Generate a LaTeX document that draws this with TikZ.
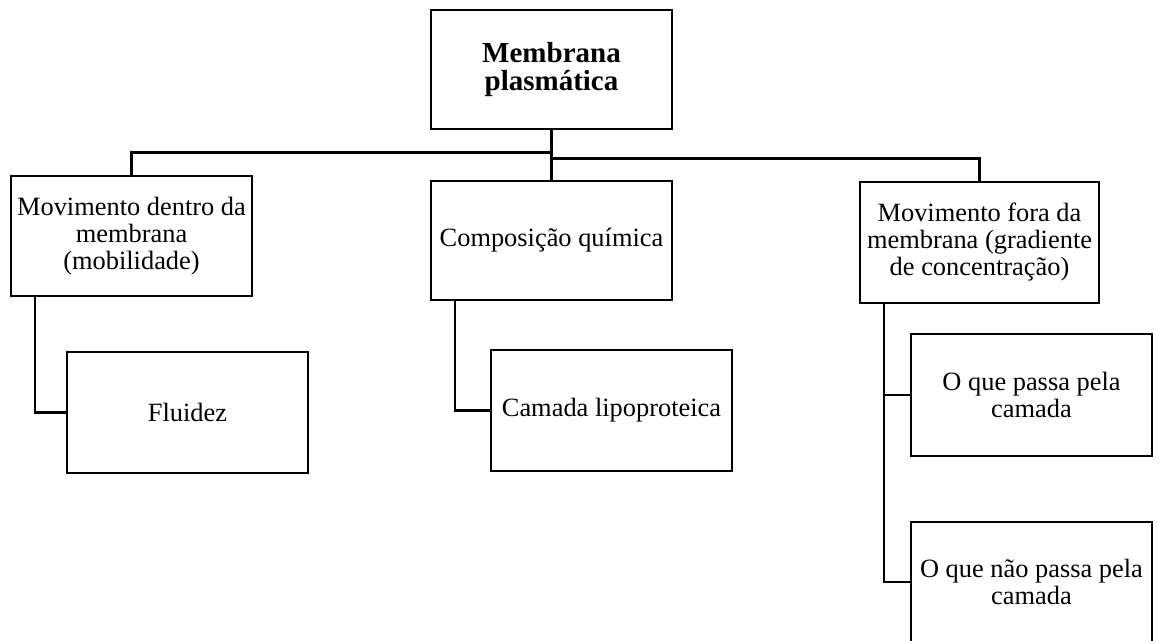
\documentclass[tikz,border=0pt]{standalone}
\usepackage{fontspec}
\setmainfont{Liberation Serif}
\begin{document}
\begin{tikzpicture}[x=1pt,y=-1pt,
  line width=2.6pt,
  box/.style={draw=black, rectangle, inner sep=0pt, align=center,
    minimum width=241pt, minimum height=120pt,
    font=\fontsize{26.4}{27}\selectfont},
  titlebox/.style={box, font=\fontsize{29}{28.5}\selectfont\bfseries},
  link/.style={draw=black, line width=2.6pt}
]
\clip (0,0) rectangle (1159,640);
\fill[white] (0,0) rectangle (1159,640);

% root
\node[titlebox, minimum height=119pt] (root) at (551.5,69.5) {Membrana\\plasmática};

% first level
\node[box] (inside) at (131.5,236) {Movimento dentro da\\membrana\\(mobilidade)};
\node[box, minimum height=119pt] (chem) at (551.5,240.5) {Composição química};
\node[box, minimum width=239pt, minimum height=121pt] (outside) at (979.5,242.5) {Movimento fora da\\membrana (gradiente\\de concentração)};

% second level
\node[box, minimum height=121pt] (fluid) at (187.5,412.5) {Fluidez};
\node[box, minimum height=121pt] (layer) at (611.5,410.5) {Camada lipoproteica};
\node[box, minimum height=122pt] (pass) at (1031.5,395) {O que passa pela\\camada};
\node[box] (nopass) at (1031.5,582) {O que não passa pela\\camada};

% connectors from the root
\draw[link] (root.south) -- (chem.north);
\draw[link] (root.south) ++(0,22) -| (inside.north);
\draw[link] (root.south) ++(0,28) -| (outside.north);

% connectors to the second level
\draw[link] ([xshift=-96.5pt]inside.south) |- (fluid.west);
\draw[link] ([xshift=-96.5pt]chem.south) |- (layer.west);
\draw[link] ([xshift=-95.5pt]outside.south) |- (pass.west);
\draw[link] ([xshift=-95.5pt]outside.south) |- (nopass.west);
\end{tikzpicture}
\end{document}
